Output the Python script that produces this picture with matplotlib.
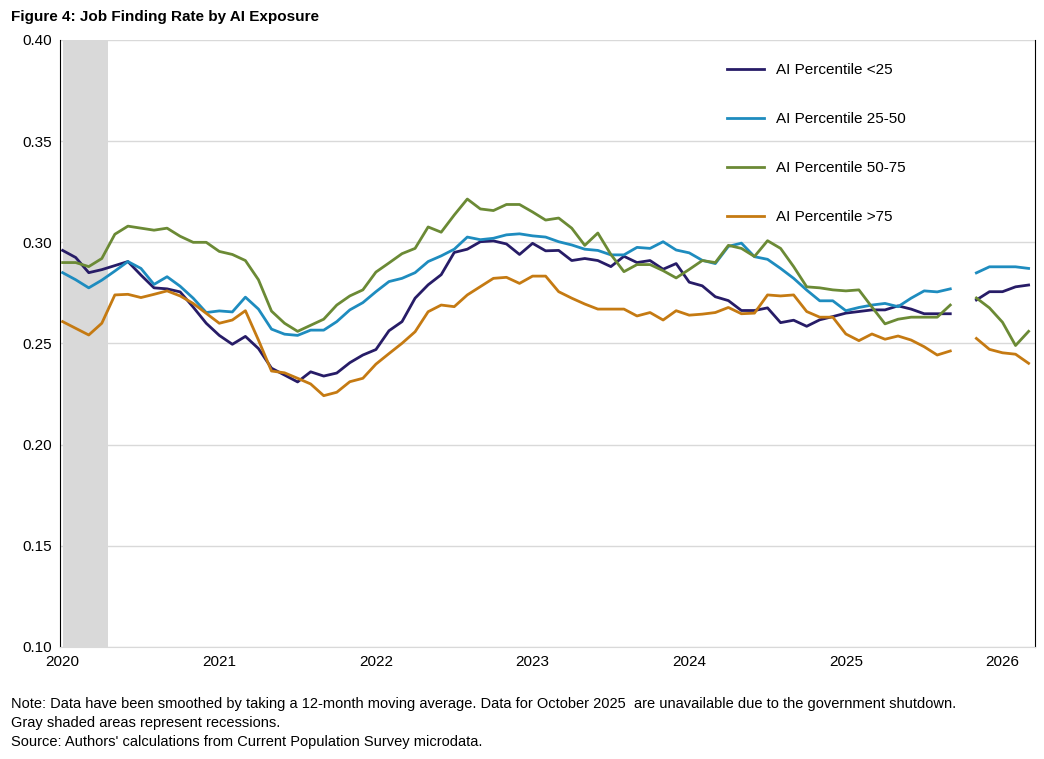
import numpy as np
import matplotlib
matplotlib.use('Agg')
import matplotlib.pyplot as plt

plt.rcParams['font.family'] = ['Liberation Sans', 'DejaVu Sans']

# monthly, Jan 2020 .. Sep 2025, then Nov 2025 .. Mar 2026 (Oct 2025 missing)
years = ['2020', '2021', '2022', '2023', '2024', '2025', '2026']
ai_lt25 = [0.296, 0.2925, 0.285, 0.2865, 0.2885, 0.2905, 0.2838, 0.2775, 0.277, 0.2755,
           0.268, 0.260, 0.254, 0.2496, 0.2535, 0.2475, 0.2378, 0.2344, 0.231, 0.236,
           0.2339, 0.2354, 0.2405, 0.2443, 0.247, 0.2563, 0.2608, 0.2724, 0.279, 0.284,
           0.295, 0.2966, 0.3003, 0.3007, 0.2992, 0.294, 0.2995, 0.2958, 0.296, 0.291,
           0.292, 0.291, 0.288, 0.2931, 0.290, 0.291, 0.2867, 0.2895, 0.2803, 0.2785,
           0.2731, 0.2712, 0.2663, 0.2663, 0.2676, 0.2603, 0.2615, 0.2585, 0.2617, 0.2633,
           0.265, 0.2658, 0.2666, 0.2666, 0.2686, 0.267, 0.2647, 0.2647, 0.2647,
           np.nan, 0.2715, 0.2756, 0.2756, 0.278, 0.2789]
ai_25_50 = [0.285, 0.2815, 0.2775, 0.2813, 0.2858, 0.2905, 0.2871, 0.2792, 0.283, 0.2783,
            0.2724, 0.2653, 0.2661, 0.2656, 0.2729, 0.267, 0.2571, 0.2546, 0.254, 0.2566,
            0.2566, 0.2608, 0.2666, 0.2702, 0.2756, 0.2806, 0.2822, 0.285, 0.2905, 0.2933,
            0.2966, 0.3026, 0.3013, 0.302, 0.3037, 0.3042, 0.3032, 0.3026, 0.3003, 0.2987,
            0.2966, 0.296, 0.2938, 0.2938, 0.2975, 0.297, 0.3003, 0.2962, 0.2948, 0.2911,
            0.2895, 0.298, 0.2996, 0.2929, 0.2916, 0.2871, 0.2822, 0.2764, 0.2711, 0.2711,
            0.2662, 0.2678, 0.269, 0.2698, 0.2682, 0.2724, 0.276, 0.2755, 0.277,
            np.nan, 0.2849, 0.2879, 0.2879, 0.2879, 0.2871]
ai_50_75 = [0.290, 0.290, 0.288, 0.292, 0.304, 0.308, 0.307, 0.306, 0.307, 0.303,
            0.300, 0.300, 0.2955, 0.294, 0.291, 0.2815, 0.266, 0.260, 0.256, 0.259,
            0.262, 0.269, 0.2735, 0.2765, 0.2853, 0.2898, 0.2944, 0.297, 0.3076, 0.305,
            0.3135, 0.3214, 0.3165, 0.3157, 0.3187, 0.3187, 0.315, 0.311, 0.312, 0.307,
            0.2985, 0.3046, 0.294, 0.2855, 0.289, 0.289, 0.286, 0.2824, 0.2866, 0.291,
            0.290, 0.2985, 0.297, 0.293, 0.3008, 0.297, 0.288, 0.278, 0.2775, 0.2765,
            0.276, 0.2765, 0.268, 0.2597, 0.262, 0.263, 0.263, 0.263, 0.269,
            np.nan, 0.2725, 0.2676, 0.2605, 0.249, 0.256]
ai_gt75 = [0.2608, 0.2575, 0.2542, 0.260, 0.274, 0.2743, 0.2727, 0.2743, 0.276, 0.2735,
           0.2698, 0.2649, 0.260, 0.2616, 0.2662, 0.2517, 0.2364, 0.2355, 0.2328, 0.230,
           0.2242, 0.2259, 0.2311, 0.2328, 0.2398, 0.245, 0.2501, 0.2558, 0.2657, 0.269,
           0.2682, 0.274, 0.2781, 0.2822, 0.2827, 0.2797, 0.2833, 0.2833, 0.2756, 0.2724,
           0.2695, 0.267, 0.267, 0.267, 0.2636, 0.2653, 0.2616, 0.2662, 0.264, 0.2645,
           0.2653, 0.2678, 0.2647, 0.265, 0.274, 0.2735, 0.274, 0.2658, 0.263, 0.263,
           0.2547, 0.2514, 0.2547, 0.2521, 0.2537, 0.2517, 0.2484, 0.2443, 0.2463,
           np.nan, 0.2525, 0.2471, 0.2454, 0.2447, 0.2402]

series = [('AI Percentile <25', ai_lt25, '#271c67'),
          ('AI Percentile 25-50', ai_25_50, '#1e8cbf'),
          ('AI Percentile 50-75', ai_50_75, '#6b8a35'),
          ('AI Percentile >75', ai_gt75, '#c57a12')]

months = np.arange(len(ai_lt25))

fig = plt.figure(figsize=(10.44, 7.59), dpi=100)
ax = fig.add_axes([0.0575, 0.1476, 0.934, 0.7997])

ax.axvspan(0.0, 3.5, color='#d9d9d9', lw=0, zorder=0)
for label, vals, col in series:
    ax.plot(months, vals, color=col, lw=2, label=label)

ax.set_ylim(0.10, 0.40)
ax.set_xlim(-0.2, 74.5)
ax.set_yticks(np.arange(0.10, 0.401, 0.05))
ax.set_yticklabels([f'{v:.2f}' for v in np.arange(0.10, 0.401, 0.05)])
ax.set_xticks(np.arange(0, 73, 12))
ax.set_xticklabels(years)
ax.tick_params(length=0, labelsize=11, pad=6)
ax.yaxis.grid(True, color='#d9d9d9', lw=1)
ax.set_axisbelow(True)
ax.spines['top'].set_visible(False)
ax.spines['bottom'].set_color('#d9d9d9')
ax.spines['left'].set_color('black')
ax.spines['right'].set_color('black')

ax.legend(loc='upper left', bbox_to_anchor=(0.67, 0.985), frameon=False,
          fontsize=11, labelspacing=2.3, handlelength=2.4, handletextpad=0.8)

fig.text(0.011, 0.977, 'Figure 4: Job Finding Rate by AI Exposure', fontsize=11,
         fontweight='bold', va='center')
fig.text(0.011, 0.082, 'Note: Data have been smoothed by taking a 12-month moving average. '
         'Data for October 2025  are unavailable due to the government shutdown.\n'
         'Gray shaded areas represent recessions.\n'
         'Source: Authors\' calculations from Current Population Survey microdata.',
         fontsize=10.5, va='top', linespacing=1.45)

fig.savefig('out.png', dpi=100)
